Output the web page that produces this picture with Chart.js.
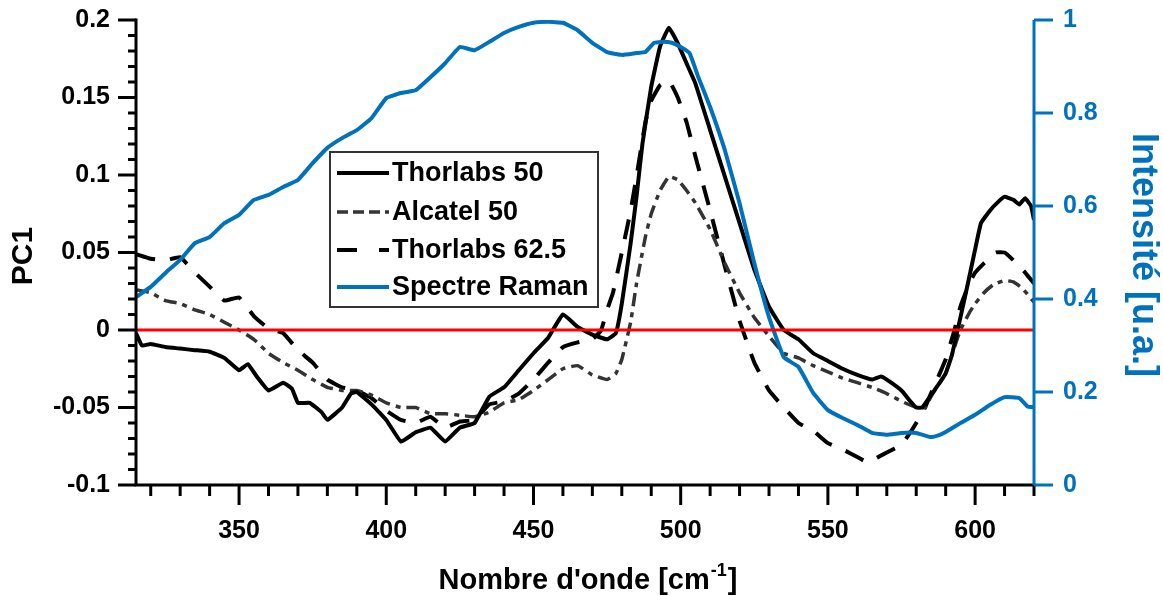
<!DOCTYPE html>
<html>
<head>
<meta charset="utf-8">
<script src="https://cdn.jsdelivr.net/npm/chart.js@4.4.1/dist/chart.umd.min.js"></script>
<style>
html,body{margin:0;padding:0;background:#fff;}
#wrap{width:1163px;height:596px;position:relative;}
</style>
</head>
<body>
<div id="wrap"><canvas id="c" width="1163" height="596"></canvas></div>
<script>
// ---- Data ----
const seriesNames = ["Thorlabs 50", "Alcatel 50", "Thorlabs 62.5", "Spectre Raman"];
const xTickValues = [350, 400, 450, 500, 550, 600];
const yLeftTickValues = [-0.1, -0.05, 0, 0.05, 0.1, 0.15, 0.2];
const yLeftTickLabels = ["-0.1", "-0.05", "0", "0.05", "0.1", "0.15", "0.2"];
const yRightTickValues = [0, 0.2, 0.4, 0.6, 0.8, 1];
const yRightTickLabels = ["0", "0.2", "0.4", "0.6", "0.8", "1"];

const thorlabs50X = [315,317,320,325,330,335,340,345,350,353,356,360,365,368,370,374,378,380,385,388,390,395,400,405,410,415,420,425,430,435,440,445,450,455,460,465,470,475,478,480,483,485,487,490,493,496,499,502,505,510,515,520,525,530,535,540,545,550,555,560,565,568,570,575,578,580,582,585,588,590,592,595,598,600,602,605,608,610,613,615,617,619,620];
const thorlabs50Y = [-0.002,-0.010,-0.009,-0.011,-0.012,-0.013,-0.014,-0.018,-0.026,-0.022,-0.030,-0.039,-0.034,-0.038,-0.047,-0.047,-0.053,-0.058,-0.050,-0.041,-0.040,-0.048,-0.058,-0.072,-0.066,-0.063,-0.072,-0.063,-0.060,-0.043,-0.037,-0.026,-0.015,-0.005,0.010,0.002,-0.003,-0.006,-0.002,0.017,0.056,0.086,0.120,0.157,0.183,0.195,0.185,0.172,0.159,0.129,0.099,0.069,0.039,0.015,0.000,-0.006,-0.015,-0.020,-0.025,-0.029,-0.032,-0.030,-0.032,-0.039,-0.046,-0.050,-0.050,-0.042,-0.034,-0.028,-0.017,0.008,0.034,0.052,0.069,0.077,0.083,0.086,0.084,0.081,0.085,0.080,0.071];

const alcatel50X = [315,320,325,330,335,340,345,350,355,360,365,370,375,380,385,390,395,400,405,410,415,420,425,430,435,440,445,450,455,460,465,470,475,478,480,483,485,488,490,493,496,499,502,505,510,515,520,525,530,535,540,545,550,555,560,565,570,575,580,583,585,588,590,593,595,598,600,603,606,610,613,616,620];
const alcatel50Y = [0.026,0.024,0.019,0.017,0.013,0.010,0.005,0.000,-0.006,-0.015,-0.021,-0.026,-0.032,-0.037,-0.039,-0.039,-0.042,-0.047,-0.050,-0.050,-0.054,-0.054,-0.055,-0.056,-0.053,-0.047,-0.045,-0.039,-0.032,-0.025,-0.023,-0.029,-0.032,-0.028,-0.019,0.005,0.030,0.060,0.075,0.090,0.099,0.097,0.090,0.082,0.065,0.043,0.024,0.008,-0.004,-0.015,-0.018,-0.023,-0.027,-0.031,-0.034,-0.037,-0.041,-0.046,-0.050,-0.050,-0.043,-0.034,-0.028,-0.011,0.000,0.011,0.017,0.024,0.029,0.032,0.031,0.027,0.018];

const thorlabs625X = [315,320,325,330,335,340,345,350,355,360,365,370,375,380,385,390,395,400,405,410,415,420,425,430,435,440,445,450,455,460,465,470,473,475,477,480,483,485,488,490,493,496,499,502,505,510,515,520,525,530,535,540,545,550,555,560,563,565,570,575,578,580,583,585,588,590,593,595,598,600,603,607,610,613,617,620];
const thorlabs625Y = [0.049,0.046,0.045,0.047,0.037,0.028,0.019,0.021,0.009,0.001,-0.002,-0.013,-0.021,-0.032,-0.037,-0.039,-0.044,-0.052,-0.058,-0.060,-0.056,-0.063,-0.059,-0.058,-0.048,-0.046,-0.041,-0.032,-0.021,-0.011,-0.008,-0.006,0.000,0.013,0.024,0.050,0.077,0.099,0.134,0.148,0.158,0.161,0.150,0.134,0.112,0.077,0.041,0.006,-0.021,-0.039,-0.050,-0.060,-0.065,-0.073,-0.077,-0.082,-0.085,-0.084,-0.079,-0.074,-0.066,-0.060,-0.050,-0.041,-0.028,-0.019,0.000,0.015,0.030,0.037,0.043,0.050,0.050,0.045,0.037,0.030];

const ramanX = [315,320,325,330,335,340,345,350,355,360,365,370,375,380,385,390,395,400,405,410,415,420,425,430,435,440,445,450,455,460,465,470,475,480,485,488,491,494,497,500,503,506,510,515,520,525,530,535,540,545,550,555,560,565,570,575,580,585,588,590,595,600,605,610,615,618,620];
const ramanY = [0.404,0.426,0.456,0.484,0.520,0.533,0.563,0.581,0.613,0.624,0.641,0.656,0.692,0.725,0.746,0.763,0.789,0.832,0.843,0.849,0.877,0.907,0.942,0.935,0.953,0.972,0.985,0.994,0.996,0.994,0.978,0.951,0.931,0.925,0.929,0.931,0.951,0.953,0.951,0.942,0.929,0.877,0.813,0.720,0.606,0.477,0.361,0.275,0.254,0.198,0.161,0.144,0.129,0.112,0.108,0.112,0.112,0.103,0.108,0.114,0.133,0.151,0.172,0.189,0.187,0.168,0.168];

const zeroLineX = [315, 620];
const zeroLineY = [0, 0];

// ---- Helpers ----
function pts(xs, ys){ return xs.map((x,i)=>({x:x, y:ys[i]})); }

const BLUE = '#0072BD';
const FONT = "'Liberation Sans', Arial, sans-serif";
const styles = [
  {color:'#000000', dash:[], width:4},
  {color:'#333333', dash:[13,6,5,6], width:3.5},
  {color:'#000000', dash:[20,15], width:4},
  {color:BLUE, dash:[], width:4}
];

const ds = [
  {label:seriesNames[0], data:pts(thorlabs50X,thorlabs50Y), yAxisID:'y', order:2},
  {label:seriesNames[1], data:pts(alcatel50X,alcatel50Y), yAxisID:'y', order:3},
  {label:seriesNames[2], data:pts(thorlabs625X,thorlabs625Y), yAxisID:'y', order:4},
  {label:seriesNames[3], data:pts(ramanX,ramanY), yAxisID:'y2', order:1}
].map((d,i)=>Object.assign(d,{
  borderColor:styles[i].color, borderWidth:styles[i].width, borderDash:styles[i].dash,
  pointRadius:0, tension:0.1, fill:false, borderJoinStyle:'round', borderCapStyle:'butt'
}));
ds.push({label:'zero', data:pts(zeroLineX,zeroLineY), yAxisID:'y', order:0,
  borderColor:'#FF0000', borderWidth:3, pointRadius:0, fill:false});

const axesPlugin = {
  id:'axesPlugin',
  afterDraw(chart){
    const ctx = chart.ctx;
    const ca = chart.chartArea;
    const sx = chart.scales.x, sy = chart.scales.y, sy2 = chart.scales.y2;
    ctx.save();
    ctx.strokeStyle = '#000'; ctx.lineWidth = 3; ctx.lineCap='square';
    ctx.beginPath();
    ctx.moveTo(ca.left, ca.top); ctx.lineTo(ca.left, ca.bottom); ctx.lineTo(ca.right, ca.bottom);
    ctx.stroke();
    ctx.lineCap='butt';
    for (let v = 320; v <= 620; v += 10) {
      const px = sx.getPixelForValue(v);
      const major = v % 50 === 0;
      ctx.beginPath(); ctx.moveTo(px, ca.bottom); ctx.lineTo(px, ca.bottom + (major ? 20 : 11)); ctx.stroke();
    }
    for (let k = -10; k <= 20; k++) {
      const v = k / 100;
      const py = sy.getPixelForValue(v);
      const major = k % 5 === 0;
      ctx.beginPath(); ctx.moveTo(ca.left, py); ctx.lineTo(ca.left - (major ? 18 : 8), py); ctx.stroke();
    }
    ctx.strokeStyle = BLUE; ctx.lineWidth = 3;
    ctx.beginPath(); ctx.moveTo(ca.right, ca.top); ctx.lineTo(ca.right, ca.bottom); ctx.stroke();
    yRightTickValues.forEach(v=>{
      const py = sy2.getPixelForValue(v);
      ctx.beginPath(); ctx.moveTo(ca.right, py); ctx.lineTo(ca.right + 19, py); ctx.stroke();
    });
    ctx.fillStyle = '#000';
    ctx.font = "bold 29px " + FONT;
    ctx.textBaseline = 'alphabetic';
    const t1 = "Nombre d'onde [cm", sup = "-1", t2 = "]";
    const w1 = ctx.measureText(t1).width, w3 = ctx.measureText(t2).width;
    ctx.font = "bold 18px " + FONT;
    const w2 = ctx.measureText(sup).width;
    const cx = (ca.left + ca.right) / 2 + 2;
    let x0 = cx - (w1 + w2 + w3) / 2;
    const by = 589;
    ctx.font = "bold 29px " + FONT; ctx.textAlign = 'left';
    ctx.fillText(t1, x0, by);
    ctx.font = "bold 18px " + FONT;
    ctx.fillText(sup, x0 + w1 + 1, by - 13);
    ctx.font = "bold 29px " + FONT;
    ctx.fillText(t2, x0 + w1 + w2 + 2, by);
    ctx.save();
    ctx.translate(24, 256); ctx.rotate(-Math.PI/2);
    ctx.textAlign = 'center'; ctx.textBaseline = 'middle';
    ctx.font = "bold 30px " + FONT;
    ctx.fillText("PC1", 0, 0);
    ctx.restore();
    ctx.save();
    ctx.translate(1143, 255); ctx.rotate(Math.PI/2);
    ctx.textAlign = 'center'; ctx.textBaseline = 'middle';
    ctx.fillStyle = BLUE;
    ctx.font = "bold 36px " + FONT;
    ctx.fillText("Intensité [u.a.]", 0, 0);
    ctx.restore();
    const lx = 330, ly = 152, lw = 268, lh = 155;
    ctx.fillStyle = '#fff';
    ctx.fillRect(lx, ly, lw, lh);
    ctx.strokeStyle = '#333'; ctx.lineWidth = 2;
    ctx.strokeRect(lx, ly, lw, lh);
    const rows = [173, 212, 250, 287];
    ctx.font = "bold 27px " + FONT;
    ctx.textAlign = 'left'; ctx.textBaseline = 'middle';
    seriesNames.forEach((name, i)=>{
      const st = styles[i];
      ctx.strokeStyle = st.color; ctx.lineWidth = st.width;
      ctx.setLineDash(i === 2 ? [20, 22] : (i === 1 ? [11, 5] : []));
      ctx.beginPath(); ctx.moveTo(337, rows[i]); ctx.lineTo(389, rows[i]); ctx.stroke();
      ctx.setLineDash([]);
      ctx.fillStyle = '#000';
      ctx.fillText(name, 392, rows[i] + 1);
    });
    ctx.restore();
  }
};

function zeroPad(s){ s.paddingTop = 0; s.paddingBottom = 0; s.paddingLeft = 0; s.paddingRight = 0; }

new Chart(document.getElementById('c'), {
  type:'line',
  data:{datasets:ds},
  options:{
    responsive:false, animation:false, devicePixelRatio:1,
    layout:{padding:{top:20, left:0, right:0, bottom:0}},
    plugins:{legend:{display:false}, tooltip:{enabled:false}},
    scales:{
      x:{type:'linear', position:'bottom', min:315, max:620,
        grid:{display:false, drawTicks:false}, border:{display:false},
        afterBuildTicks:(s)=>{ s.ticks = xTickValues.map(v=>({value:v})); },
        afterFit:(s)=>{ s.height = 111; zeroPad(s); },
        ticks:{color:'#000', padding:31, maxRotation:0, autoSkip:false,
          font:{family:FONT, size:25, weight:'bold'}, callback:(v)=>String(v)}},
      y:{type:'linear', position:'left', min:-0.1, max:0.2,
        grid:{display:false, drawTicks:false}, border:{display:false},
        afterBuildTicks:(s)=>{ s.ticks = yLeftTickValues.map(v=>({value:v})); },
        afterFit:(s)=>{ s.width = 136; zeroPad(s); },
        ticks:{color:'#000', padding:26, autoSkip:false,
          font:{family:FONT, size:25, weight:'bold'},
          callback:(v)=>{ const i = yLeftTickValues.findIndex(t=>Math.abs(t-v)<1e-9); return i>=0 ? yLeftTickLabels[i] : ''; }}},
      y2:{type:'linear', position:'right', min:0, max:1,
        grid:{display:false, drawTicks:false}, border:{display:false},
        afterBuildTicks:(s)=>{ s.ticks = yRightTickValues.map(v=>({value:v})); },
        afterFit:(s)=>{ s.width = 129; zeroPad(s); },
        ticks:{color:BLUE, padding:29, autoSkip:false,
          font:{family:FONT, size:25, weight:'bold'},
          callback:(v)=>{ const i = yRightTickValues.findIndex(t=>Math.abs(t-v)<1e-9); return i>=0 ? yRightTickLabels[i] : ''; }}}
    }
  },
  plugins:[axesPlugin]
});
</script>
</body>
</html>
